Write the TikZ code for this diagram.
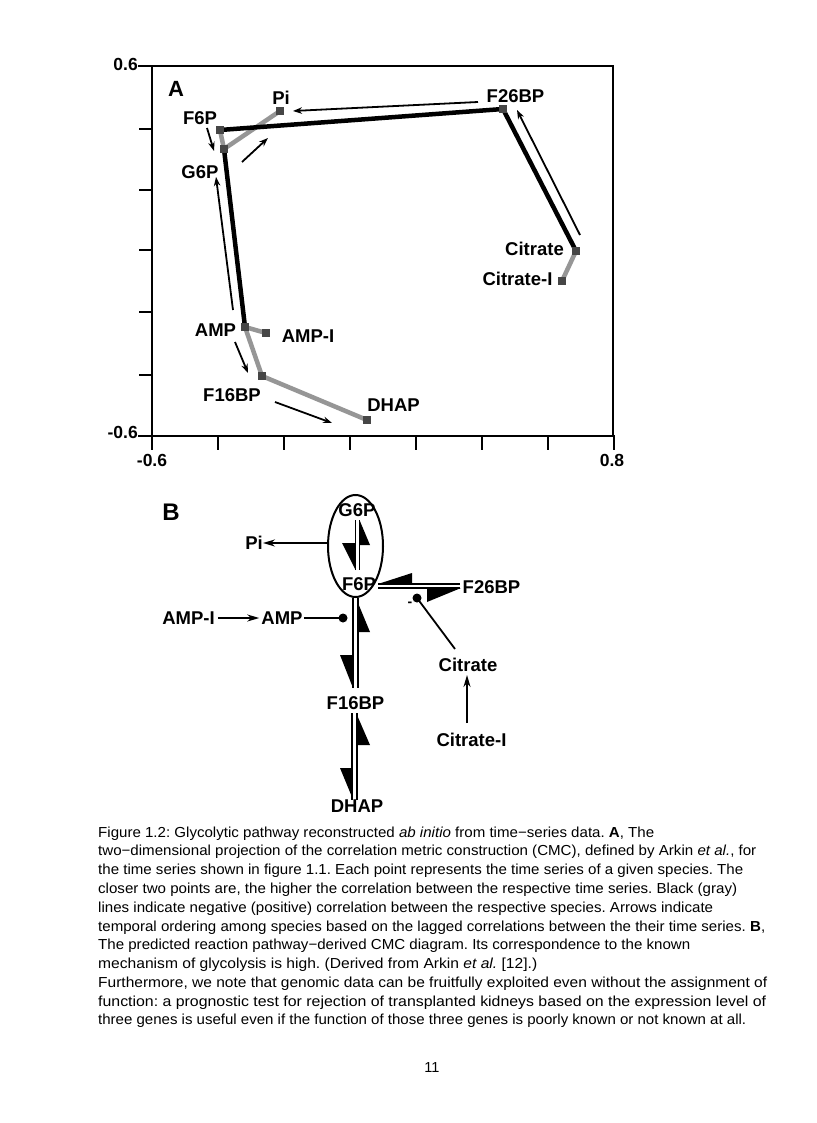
\documentclass[tikz,border=0pt]{standalone}
\usepackage{fontspec}
\usepackage{graphicx}
\setmainfont{Liberation Sans}
\usetikzlibrary{arrows.meta,shapes.geometric}
\definecolor{sqgray}{RGB}{70,70,70}
\definecolor{linegray}{RGB}{150,150,150}
\newcommand\capline[2]{\resizebox{#1pt}{\height}{#2}}
\frenchspacing
\begin{document}
\begin{tikzpicture}[x=1pt,y=-1pt,
  lab/.style={font=\fontsize{18.5}{20}\selectfont\bfseries, inner sep=0pt},
  axl/.style={font=\fontsize{17.5}{19}\selectfont\bfseries, inner sep=0pt},
  sq/.style={fill=sqgray, minimum size=7.5pt, inner sep=0pt, draw=none},
  blk/.style={line width=4.5pt, black},
  gry/.style={line width=4.5pt, linegray},
  arr/.style={line width=1.8pt, -{Stealth[length=9pt,width=6.5pt]}},
  barr/.style={line width=1.8pt, -{Stealth[length=12pt,width=7pt]}},
  dbl/.style={line width=1.7pt},
  harp/.style={fill=black},
  captxt/.style={font=\fontsize{14.5}{16}\selectfont, inner sep=0pt, anchor=base west},
  frame/.style={line width=2.6pt, line cap=rect}
]
\useasboundingbox (0,0) rectangle (816,1123);
\fill[white] (0,0) rectangle (816,1123);

% ---------------- Panel A ----------------
\draw[frame] (139,66) -- (613,66) -- (613,436);
\draw[frame] (152,66) -- (152,436);
\draw[frame] (139,436) -- (614,436);
\foreach \y in {129,190,250,312,375} \draw[line width=2.4pt] (139,\y) -- (152,\y);
\foreach \x in {152,218,284,350,416,482,548,614} \draw[line width=2.4pt] (\x,436) -- (\x,450);
\node[axl, anchor=east] (ytop) at (138,64) {0.6};
\node[axl, anchor=east] (ybot) at (138,432) {-0.6};
\node[axl] (xl) at (152,460) {-0.6};
\node[axl] (xr) at (612,460) {0.8};
\node[font=\fontsize{22}{24}\selectfont\bfseries, inner sep=0pt] (labA) at (176,89) {A};

\node[sq] (F6P) at (220,130) {};
\node[sq] (G6P) at (224,149) {};
\node[sq] (Pi) at (280,111) {};
\node[sq] (F26BP) at (503,109) {};
\node[sq] (Cit) at (576,251) {};
\node[sq] (CitI) at (562,281) {};
\node[sq] (AMP) at (245,327) {};
\node[sq] (AMPI) at (266,333) {};
\node[sq] (F16BP) at (262,376) {};
\node[sq] (DHAP) at (367,420) {};

\draw[gry] (G6P.center) -- (Pi.center);
\draw[gry] (F6P.center) -- (G6P.center);
\draw[gry] (AMP.center) -- (AMPI.center);
\draw[gry] (AMP.center) -- (F16BP.center) -- (DHAP.center);
\draw[gry] (Cit.center) -- (CitI.center);
\draw[blk] (F6P.center) -- (F26BP.center) -- (Cit.center);
\draw[blk] (G6P.center) -- (AMP.center);
\foreach \n in {F6P,G6P,Pi,F26BP,Cit,CitI,AMP,AMPI,F16BP,DHAP} \node[sq] at (\n) {};

\node[lab] (tPi) at (281,98) {Pi};
\node[lab] (tF6P) at (200,118) {F6P};
\node[lab] (tG6P) at (200,172) {G6P};
\node[lab] (tF26BP) at (515.5,96) {F26BP};
\node[lab] (tCit) at (534.5,249) {Citrate};
\node[lab] (tCitI) at (517.5,279) {Citrate-I};
\node[lab] (tAMP) at (215.5,330) {AMP};
\node[lab] (tAMPI) at (308,336) {AMP-I};
\node[lab] (tF16BP) at (232,395) {F16BP};
\node[lab] (tDHAP) at (393.5,405) {DHAP};

\coordinate (a1s) at (478,102); \coordinate (a1e) at (293,111);
\coordinate (a2s) at (207,128); \coordinate (a2e) at (214,151);
\coordinate (a3s) at (242,162); \coordinate (a3e) at (268,138);
\coordinate (a4s) at (233,310); \coordinate (a4e) at (216,177);
\coordinate (a5s) at (235,342); \coordinate (a5e) at (248,373);
\coordinate (a6s) at (275,402); \coordinate (a6e) at (332,423);
\coordinate (a7s) at (580,235); \coordinate (a7e) at (517,110);
\foreach \i in {1,...,7} \draw[arr] (a\i s) -- (a\i e);

% ---------------- Panel B ----------------
\node[font=\fontsize{24}{26}\selectfont\bfseries, inner sep=0pt] (labB) at (171,512) {B};
\node[draw, ellipse, line width=2pt, minimum width=55pt, minimum height=102pt, inner sep=0pt] (ell) at (355.5,546) {};
\node[lab] (bG6P) at (357,510) {G6P};
\node[lab] (bF6P) at (359,584) {F6P};
\node[lab] (bPi) at (254,543) {Pi};
\node[lab] (bAMPI) at (188.5,618) {AMP-I};
\node[lab] (bAMP) at (282,618) {AMP};
\node[lab] (bF26BP) at (491.5,587) {F26BP};
\node[lab] (bCit) at (468,665) {Citrate};
\node[lab] (bCitI) at (471.5,740) {Citrate-I};
\node[lab] (bF16BP) at (355.5,703) {F16BP};
\node[lab] (bDHAP) at (357,806) {DHAP};
\node[font=\fontsize{14}{16}\selectfont\bfseries, inner sep=0pt] (minus) at (410,604) {-};

% Pi arrow
\draw[barr] ([yshift=3pt]ell.west) -- (bPi.east);
% AMP-I -> AMP
\draw[barr] ([xshift=3pt]bAMPI.east) -- ([xshift=-2pt]bAMP.west);
% AMP inhibition
\coordinate (dotAMP) at (343,618);
\draw[line width=1.8pt] ([xshift=1pt]bAMP.east) -- (dotAMP);
\fill (dotAMP) circle (4.5pt);
% Citrate inhibition
\coordinate (dotCit) at (417,598);
\coordinate (citTop) at (455,649);
\draw[line width=1.8pt] (citTop) -- (dotCit);
\fill (dotCit) circle (4.5pt);
% Citrate-I -> Citrate
\coordinate (ciS) at (467,723); \coordinate (ciE) at (467,675);
\draw[barr] (ciS) -- (ciE);

% double line inside ellipse G6P <-> F6P
\draw[dbl] (355.5,520) -- (355.5,570);
\draw[dbl] (359.5,520) -- (359.5,570);
\fill[harp] (359.5,520) -- (370,545) -- (359.5,545) -- cycle;
\fill[harp] (342,543) -- (355.5,543) -- (355.5,570) -- cycle;

% F6P <-> F26BP
\draw[dbl] (378,584) -- (460,584);
\draw[dbl] (378,588) -- (460,588);
\fill[harp] (378,584) -- (412,573) -- (412,584) -- cycle;
\fill[harp] (427,588) -- (461,588) -- (427,602) -- cycle;

% F6P <-> F16BP
\draw[dbl] (353,598) -- (353,688);
\draw[dbl] (358,598) -- (358,688);
\fill[harp] (358,603) -- (370,632) -- (358,632) -- cycle;
\fill[harp] (340,655) -- (353,655) -- (353,688) -- cycle;

% F16BP <-> DHAP
\draw[dbl] (352,713) -- (352,800);
\draw[dbl] (357,713) -- (357,800);
\fill[harp] (357,715) -- (370,745) -- (357,745) -- cycle;
\fill[harp] (340,768) -- (352,768) -- (352,797) -- cycle;

% ---------------- Caption ----------------
\node[captxt] (c1) at (98,837) {\capline{556}{Figure 1.2: Glycolytic pathway reconstructed \textit{ab initio} from time−series data. \textbf{A}, The}};
\node[captxt] (c2) at (98,855) {\capline{658}{two−dimensional projection of the correlation metric construction (CMC), defined by Arkin \textit{et al.}, for}};
\node[captxt] (c3) at (98,874) {\capline{645}{the time series shown in figure 1.1. Each point represents the time series of a given species. The}};
\node[captxt] (c4) at (98,893) {\capline{639}{closer two points are, the higher the correlation between the respective time series. Black (gray)}};
\node[captxt] (c5) at (98,912) {\capline{615}{lines indicate negative (positive) correlation between the respective species. Arrows indicate}};
\node[captxt] (c6) at (98,931) {\capline{667}{temporal ordering among species based on the lagged correlations between the their time series. \textbf{B},}};
\node[captxt] (c7) at (98,949) {\capline{592}{The predicted reaction pathway−derived CMC diagram. Its correspondence to the known}};
\node[captxt] (c8) at (98,968) {\capline{439}{mechanism of glycolysis is high. (Derived from Arkin \textit{et al.} [12].)}};
\node[captxt] (c9) at (98,987) {\capline{669}{Furthermore, we note that genomic data can be fruitfully exploited even without the assignment of}};
\node[captxt] (c10) at (98,1006) {\capline{668}{function: a prognostic test for rejection of transplanted kidneys based on the expression level of}};
\node[captxt] (c11) at (98,1024) {\capline{648}{three genes is useful even if the function of those three genes is poorly known or not known at all.}};
\node[font=\fontsize{14.5}{16}\selectfont, inner sep=0pt] (pg) at (432,1067) {11};
\end{tikzpicture}
\end{document}
